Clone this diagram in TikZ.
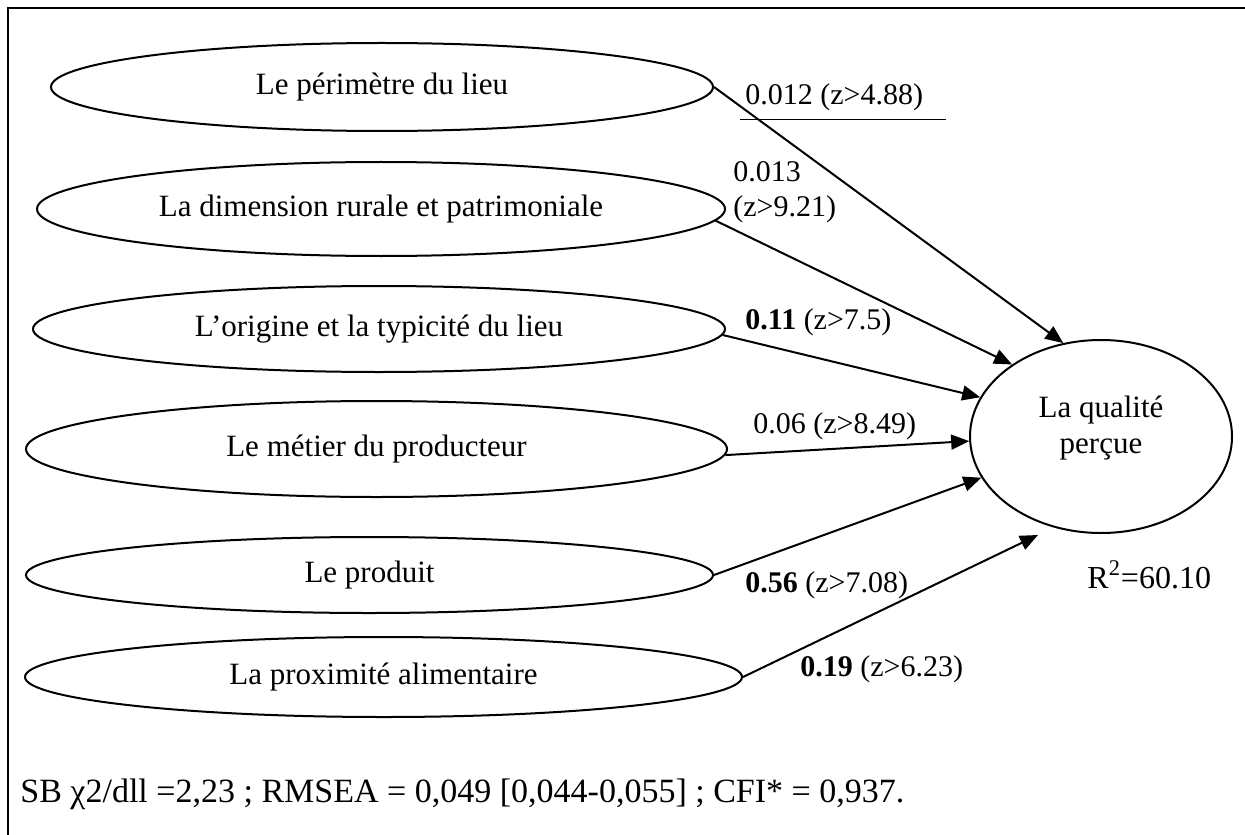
\documentclass[tikz,border=0pt]{standalone}
\usepackage{fontspec}
\setmainfont{Liberation Serif}
\usetikzlibrary{shapes.geometric,arrows.meta}
\begin{document}
\begin{tikzpicture}[x=0.5pt,y=-0.5pt,
  lat/.style={ellipse,draw,line width=1pt,inner sep=0pt,font=\fontsize{15.5}{18}\selectfont},
  lab/.style={inner sep=0pt,font=\fontsize{15}{17.5}\selectfont},
  arr/.style={line width=1pt,-{Triangle[length=9pt,width=7.5pt]}}]
\useasboundingbox (0,0) rectangle (1245,834);
\clip (0,0) rectangle (1245,834);
\draw[line width=1.3pt] (8,1000) -- (8,8) -- (1300,8);
% latent variables
\node[lat,minimum width=331pt,minimum height=44pt] (e1) at (382,87) {Le périmètre du lieu};
\node[lat,minimum width=344pt,minimum height=47pt] (e2) at (381,209) {La dimension rurale et patrimoniale};
\node[lat,minimum width=346pt,minimum height=43pt] (e3) at (379,329) {L’origine et la typicité du lieu};
\node[lat,minimum width=350.5pt,minimum height=48pt] (e4) at (376.5,449) {Le métier du producteur};
\node[lat,minimum width=343.5pt,minimum height=38pt] (e5) at (369.5,575) {Le produit};
\node[lat,minimum width=358.5pt,minimum height=40pt] (e6) at (383.5,677) {La proximité alimentaire};
\node[lat,minimum width=131pt,minimum height=96.5pt,align=center,text depth=12pt] (q) at (1101,436.5) {La qualité\\perçue};
% labels
\node[lab,anchor=base west] (l1) at (745,105) {0.012 (z>4.88)};
\draw[line width=0.5pt] (740,120) -- (946,120);
\node[lab,anchor=west,align=left] (l2) at (733,192.5) {0.013\\(z>9.21)};
\node[lab,anchor=base west] (l3) at (745,329) {\textbf{0.11} (z>7.5)};
\node[lab,anchor=base west] (l4) at (753,433) {0.06 (z>8.49)};
\node[lab,anchor=base west] (l5) at (745,592) {\textbf{0.56} (z>7.08)};
\node[lab,anchor=base west] (l6) at (800,676) {\textbf{0.19} (z>6.23)};
\node[lab,anchor=base west,font=\fontsize{16}{19}\selectfont] (r2) at (1087,588) {R\textsuperscript{2}=60.10};
\node[lab,anchor=base west,font=\fontsize{17}{20}\selectfont] (fit) at (20,802) {SB χ2/dll =2,23 ; RMSEA = 0,049 [0,044-0,055] ; CFI* = 0,937.};
% paths
\draw[arr] (e1.east) -- (q.112.5);
\draw[arr] (e2.-2) -- (q.141);
\draw[arr] (e3.-1) -- (q.162);
\draw[arr] (e4.-1) -- (q.182);
\draw[arr] (e5.east) -- (q.199.5);
\coordinate (t6) at (1038,535);
\draw[arr] (e6.east) -- (t6);
\end{tikzpicture}
\end{document}
